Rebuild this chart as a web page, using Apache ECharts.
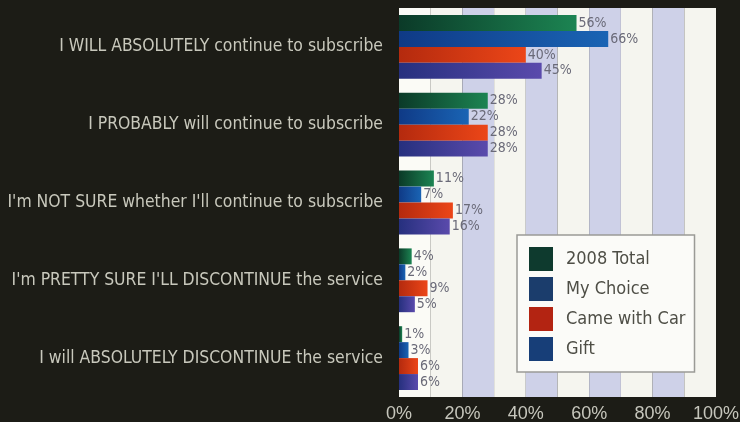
<!DOCTYPE html>
<html>
<head>
<meta charset="utf-8">
<script src="https://cdn.jsdelivr.net/npm/echarts@6/dist/echarts.min.js"></script>
<style>
  html, body { margin: 0; padding: 0; background: #1c1c16; }
  #chart { width: 740px; height: 422px; }
</style>
</head>
<body>
<div id="chart"></div>
<script>
const categories = [
  "I WILL ABSOLUTELY continue to subscribe",
  "I PROBABLY will continue to subscribe",
  "I'm NOT SURE whether I'll continue to subscribe",
  "I'm PRETTY SURE I'LL DISCONTINUE the service",
  "I will ABSOLUTELY DISCONTINUE the service"
];
const seriesNames = ["2008 Total", "My Choice", "Came with Car", "Gift"];
const total2008 = [56, 28, 11, 4, 1];
const myChoice = [66, 22, 7, 2, 3];
const cameWithCar = [40, 28, 17, 9, 6];
const gift = [45, 28, 16, 5, 6];
const xTicks = [0, 20, 40, 60, 80, 100];

const values = [total2008, myChoice, cameWithCar, gift];
const barGrad = [
  ['#0b3a28', '#1c8452'],
  ['#0f3a86', '#1a64b4'],
  ['#b42a0e', '#ec4618'],
  ['#26307e', '#5a4aac']
];
const legendColors = ['#0e3a2e', '#1b3d6c', '#b32412', '#173e78'];
const FONT = '"DejaVu Sans Condensed", "Liberation Sans Narrow", "Liberation Sans", sans-serif';

function grad(c) {
  return new echarts.graphic.LinearGradient(0, 0, 1, 0, [
    { offset: 0, color: c[0] }, { offset: 1, color: c[1] }
  ]);
}

const chart = echarts.init(document.getElementById('chart'), null, { renderer: 'canvas' });
chart.setOption({
  backgroundColor: '#1c1c16',
  animation: false,
  grid: { left: 399, right: 24, top: 8, bottom: 25, containLabel: false, outerBoundsMode: 'none' },
  legend: {
    orient: 'vertical',
    left: 517, top: 235,
    padding: [12, 9, 11, 12],
    itemWidth: 24, itemHeight: 24, itemGap: 6,
    icon: 'rect',
    backgroundColor: '#fbfbf8',
    borderColor: '#9a9a96', borderWidth: 1.5,
    textStyle: { fontFamily: FONT, fontSize: 18, color: '#4e4e46', padding: [0, 0, 0, 8] },
    data: seriesNames.map((n, i) => ({ name: n, itemStyle: { color: legendColors[i] } }))
  },
  xAxis: {
    type: 'value', min: 0, max: 100, interval: 10,
    axisLine: { show: false }, axisTick: { show: false },
    splitLine: { show: false },
    splitArea: { show: true, areaStyle: { color: ['#fbfbf6', '#f5f5ef', '#ced1e8', '#f5f5ef', '#ced1e8', '#f5f5ef', '#ced1e8', '#f5f5ef', '#ced1e8', '#f5f5ef'] } },
    axisLabel: {
      color: '#c6c6bc', fontSize: 18, margin: 8,
      fontFamily: '"Liberation Sans", sans-serif',
      formatter: v => xTicks.indexOf(v) >= 0 ? v + '%' : ''
    }
  },
  yAxis: {
    type: 'category', data: categories, inverse: true,
    axisLine: { show: false }, axisTick: { show: false },
    axisLabel: { color: '#c8c8bc', fontSize: 17.4, fontFamily: FONT, margin: 16 }
  },
  series: seriesNames.map((n, i) => ({
    name: n, type: 'bar',
    data: values[i],
    barGap: '0%', barCategoryGap: '18%',
    itemStyle: { color: grad(barGrad[i]) },
    label: {
      show: true, position: 'right', distance: 2,
      formatter: '{c}%', fontFamily: FONT, fontSize: 14, color: '#6a6a78'
    }
  }))
});
</script>
</body>
</html>
